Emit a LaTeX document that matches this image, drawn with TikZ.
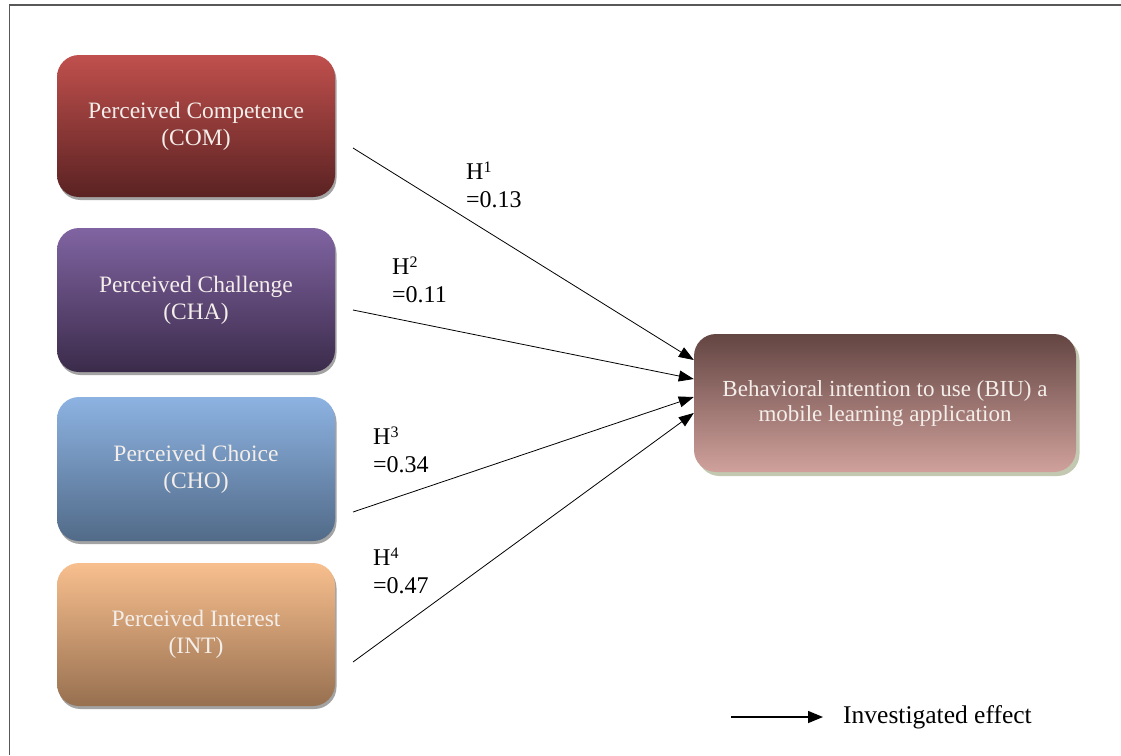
\documentclass[tikz,border=0pt]{standalone}
\usepackage{fontspec}
\setmainfont{Liberation Serif}
\usetikzlibrary{arrows.meta,shadows,calc}
\definecolor{comtop}{HTML}{C0504D}
\definecolor{combot}{HTML}{5A2222}
\definecolor{chatop}{HTML}{8064A2}
\definecolor{chabot}{HTML}{3B2B4A}
\definecolor{chotop}{HTML}{8DB3E2}
\definecolor{chobot}{HTML}{516A88}
\definecolor{inttop}{HTML}{F8BF8E}
\definecolor{intbot}{HTML}{977050}
\definecolor{biutop}{HTML}{634542}
\definecolor{biubot}{HTML}{D0A19C}
\definecolor{boxtext}{HTML}{F4EEEA}
\definecolor{frameline}{HTML}{585858}
\definecolor{greyshadow}{HTML}{A3A3A3}
\definecolor{greenshadow}{HTML}{C3C8B0}
\newcommand{\hsup}[1]{\raisebox{0.3em}{\fontsize{16}{16}\selectfont #1}}
\tikzset{
  factor/.style={rectangle, rounded corners=22pt, minimum width=278pt, align=center,
     text=boxtext, font=\fontsize{23.5}{27}\selectfont, inner sep=0pt,
     drop shadow={shadow xshift=1.5pt, shadow yshift=-3pt, fill=greyshadow, opacity=1}},
  target/.style={rectangle, rounded corners=22pt, minimum width=382pt, minimum height=138pt,
     align=center, text=boxtext, font=\fontsize{23}{25}\selectfont, inner sep=0pt,
     drop shadow={shadow xshift=3.5pt, shadow yshift=-4pt, fill=greenshadow, opacity=1}},
  effect/.style={draw=black, line width=0.8pt, -{Triangle[length=15pt,width=11pt]}},
  legendarrow/.style={draw=black, line width=1.4pt, -{Triangle[length=15pt,width=12pt]}},
  hlabel/.style={anchor=west, align=left, inner sep=0pt, font=\fontsize{24}{28}\selectfont},
  legendtext/.style={anchor=base west, inner sep=0pt, font=\fontsize{25.5}{28}\selectfont},
  frame/.style={draw=frameline, line width=1.3pt}
}
\begin{document}
\begin{tikzpicture}[x=1pt,y=-1pt]
\useasboundingbox (0,0) rectangle (1121,755);
\draw[frame] (1121,5) -- (9.5,5) -- (9.5,755);

\node[factor, minimum height=142pt, top color=comtop, bottom color=combot] (com) at (196,126)
  {Perceived Competence\\(COM)};
\node[factor, minimum height=144pt, top color=chatop, bottom color=chabot] (cha) at (196,300)
  {Perceived Challenge\\(CHA)};
\node[factor, minimum height=144pt, top color=chotop, bottom color=chobot] (cho) at (196,469)
  {Perceived Choice\\(CHO)};
\node[factor, minimum height=143pt, top color=inttop, bottom color=intbot] (int) at (196,634.5)
  {Perceived Interest\\(INT)};

\node[target, top color=biutop, bottom color=biubot] (biu) at (885,403)
  {Behavioral intention to use (BIU) a\\mobile learning application};

\coordinate (s1) at (353,148);
\coordinate (s2) at (353,310);
\coordinate (s3) at (353,512);
\coordinate (s4) at (353,662);
\coordinate (e1) at ([yshift=43pt]biu.west);
\coordinate (e2) at ([yshift=24pt]biu.west);
\coordinate (e3) at ([yshift=6pt]biu.west);
\coordinate (e4) at ([yshift=-10pt]biu.west);

\draw[effect] (s1) -- (e1);
\draw[effect] (s2) -- (e2);
\draw[effect] (s3) -- (e3);
\draw[effect] (s4) -- (e4);

\node[hlabel] (h1) at (466,185) {H\hsup{1}\\=0.13};
\node[hlabel] (h2) at (392,280) {H\hsup{2}\\=0.11};
\node[hlabel] (h3) at (373,450) {H\hsup{3}\\=0.34};
\node[hlabel] (h4) at (373,571) {H\hsup{4}\\=0.47};

\coordinate (la) at (731,717);
\coordinate (lb) at (823,717);
\draw[legendarrow] (la) -- (lb);
\node[legendtext] (leg) at (843,723) {Investigated effect};
\end{tikzpicture}
\end{document}
